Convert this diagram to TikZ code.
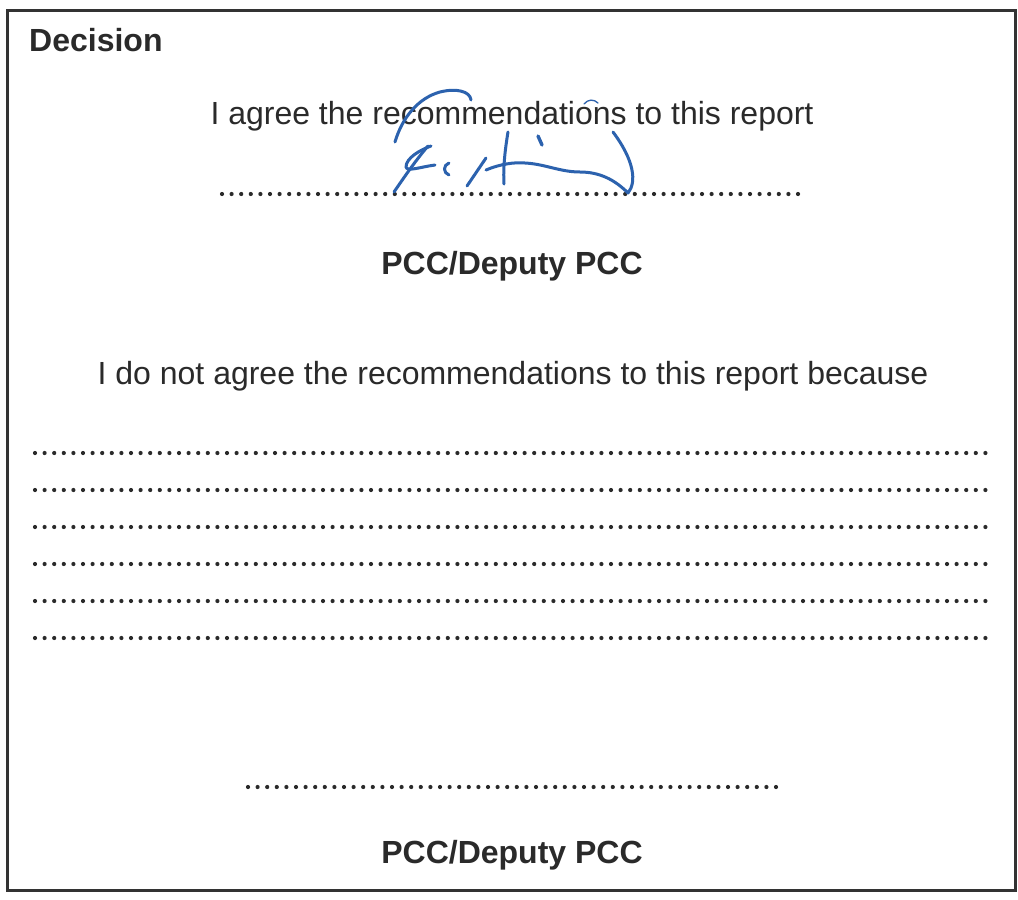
\documentclass[tikz,border=0pt]{standalone}
\usepackage{fontspec}
\setmainfont{Liberation Sans}
\definecolor{ink}{HTML}{2A2A2A}
\definecolor{frame}{HTML}{333333}
\definecolor{sig}{HTML}{2C62AE}
\tikzset{
  txt/.style={text=ink, inner sep=0pt, font=\fontsize{32}{38}\selectfont},
  bold/.style={txt, font=\fontsize{32}{38}\selectfont\bfseries},
  dots/.style={draw=ink, line width=4.2pt, line cap=round, dash pattern=on 0pt off 9.6pt},
  pen/.style={draw=sig, line width=3pt, line cap=round, line join=round},
}
\begin{document}
\begin{tikzpicture}[x=1pt,y=-1pt]
\useasboundingbox (0,0) rectangle (1018,900);
\fill[white] (0,0) rectangle (1018,900);
\draw[frame, line width=3pt] (7.5,10) rectangle (1015.5,890);

\node[bold, anchor=base west] (dec) at (29,51) {Decision};
\node[txt, anchor=base] (agree) at (512,124) {I agree the recommendations to this report};
\node[bold, anchor=base] (pcc1) at (512,274) {PCC/Deputy PCC};
\node[txt, anchor=base] (disagree) at (513,384) {I do not agree the recommendations to this report because};
\node[bold, anchor=base] (pcc2) at (512,863) {PCC/Deputy PCC};

% signature dotted line
\coordinate (s1) at (222,194); \coordinate (s2) at (806,194);
\draw[dots] (s1) -- (s2);
% reason lines
\foreach \y [count=\i] in {453,490,527,564,601,638}{
  \coordinate (l\i a) at (35,\y); \coordinate (l\i b) at (992,\y);
  \draw[dots] (l\i a) -- (l\i b);
}
% bottom signature line
\coordinate (b1) at (248,787); \coordinate (b2) at (778,787);
\draw[dots] (b1) -- (b2);

% handwritten signature
\draw[pen] (395,142) .. controls (402,118) and (418,98) .. (440,92)
  .. controls (456,88) and (470,91) .. (471,100);
\draw[pen] (394,192) .. controls (405,176) and (416,160) .. (428,146);
\draw[pen] (431,146) .. controls (420,150) and (406,158) .. (406,167)
  .. controls (407,172) and (420,167) .. (435,165);
\draw[pen] (449,163) .. controls (443,165) and (443,173) .. (449,175);
\draw[pen] (467,186) -- (486,158);
\draw[pen] (508,132) .. controls (505,150) and (503,168) .. (504,184);
\draw[pen] (486,170) .. controls (500,164) and (515,162) .. (525,163)
  .. controls (545,164) and (560,172) .. (580,172)
  .. controls (600,172) and (615,180) .. (628,193)
  .. controls (637,182) and (634,160) .. (613,132);
\draw[pen, line width=3.4pt] (538,136) -- (542,145);
\draw[pen, line width=1.3pt] (584,104) .. controls (588,99) and (594,99) .. (598,103);
\end{tikzpicture}
\end{document}
